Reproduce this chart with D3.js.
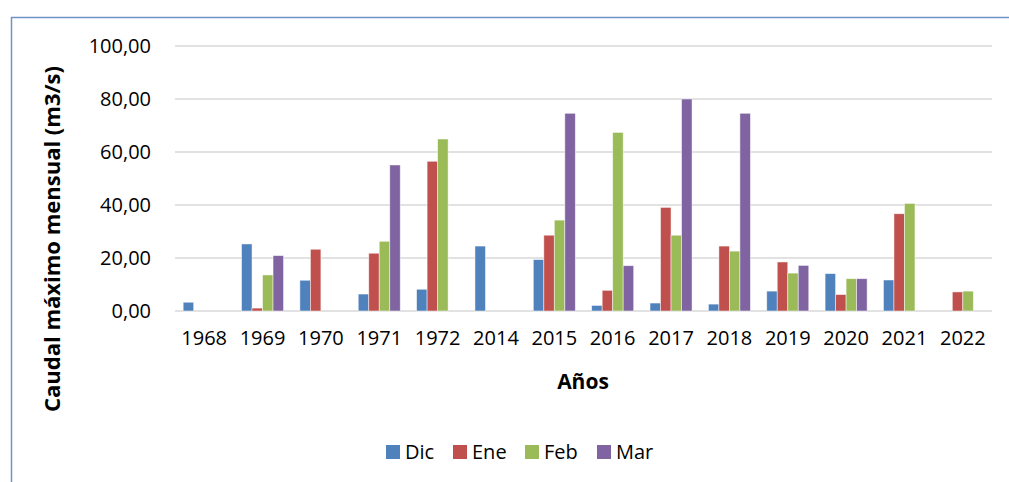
<!DOCTYPE html>
<html>
<head>
<meta charset="utf-8">
<script src="https://cdn.jsdelivr.net/npm/d3@7"></script>
<style>
  html, body { margin: 0; padding: 0; background: #fff; }
  svg { display: block; }
  text { font-family: "Open Sans", "Noto Sans", sans-serif; fill: #000; }
</style>
</head>
<body>
<svg id="chart" width="1009" height="482"></svg>
<script>
// Años registrados
const years = ["1968", "1969", "1970", "1971", "1972", "2014", "2015", "2016", "2017", "2018", "2019", "2020", "2021", "2022"];
// Meses (series)
const months = ["Dic", "Ene", "Feb", "Mar"];
const monthColors = ["#4f81bd", "#c0504d", "#9bbb59", "#8064a2"];
// Caudal máximo mensual (m3/s) por mes; null = sin dato
const dic = [3.3, 25.3, 11.6, 6.4, 8.2, 24.5, 19.4, 2.1, 3.0, 2.6, 7.5, 14.1, 11.7, null];
const ene = [null, 1.1, 23.3, 21.8, 56.5, null, 28.6, 7.8, 39.1, 24.5, 18.5, 6.2, 36.7, 7.2];
const feb = [null, 13.6, null, 26.3, 64.9, null, 34.3, 67.4, 28.6, 22.6, 14.3, 12.2, 40.6, 7.5];
const mar = [null, 20.9, null, 55.1, null, null, 74.6, 17.1, 80.0, 74.6, 17.2, 12.2, null, null];
const yTicks = [0, 20, 40, 60, 80, 100];

const seriesValues = [dic, ene, feb, mar];

const svg = d3.select("#chart");
const plot = { left: 175, right: 992, top: 46, bottom: 311 };

// Marco exterior del gráfico
svg.append("path")
  .attr("d", `M1009,17.5 H11.5 V482`)
  .attr("fill", "none")
  .attr("stroke", "#6f93c8")
  .attr("stroke-width", 1.5);

const x = d3.scaleBand().domain(years).range([plot.left, plot.right]).paddingInner(0).paddingOuter(0);
const barW = x.bandwidth() * 0.18;
const groupOffset = (x.bandwidth() - barW * months.length) / 2;
const y = d3.scaleLinear().domain([0, 100]).range([plot.bottom, plot.top]);

// Líneas de cuadrícula
svg.append("g")
  .selectAll("line")
  .data(yTicks)
  .join("line")
  .attr("x1", plot.left).attr("x2", plot.right)
  .attr("y1", d => y(d)).attr("y2", d => y(d))
  .attr("stroke", "#d9d9d9")
  .attr("stroke-width", 1.5);

// Eje Y
const fmt = d => d3.format(".2f")(d).replace(".", ",");
const yAxis = svg.append("g")
  .attr("transform", `translate(${plot.left},0)`)
  .call(d3.axisLeft(y).tickValues(yTicks).tickFormat(fmt).tickSize(0).tickPadding(24));
yAxis.select(".domain").remove();
yAxis.selectAll("text")
  .style("font-size", "20px")
  .style("font-family", "'Open Sans', sans-serif")
  .attr("fill", "#000");

// Eje X
const xAxis = svg.append("g")
  .attr("transform", `translate(0,${plot.bottom})`)
  .call(d3.axisBottom(x).tickSize(0).tickPadding(20));
xAxis.select(".domain").remove();
xAxis.selectAll("text")
  .style("font-size", "20px")
  .style("font-family", "'Open Sans', sans-serif")
  .attr("fill", "#000");

// Barras
const bars = [];
seriesValues.forEach((vals, si) => {
  vals.forEach((v, i) => {
    if (v !== null) bars.push({ year: years[i], s: si, v });
  });
});
svg.append("g")
  .selectAll("rect")
  .data(bars)
  .join("rect")
  .attr("x", d => x(d.year) + groupOffset + d.s * barW)
  .attr("width", barW)
  .attr("y", d => y(d.v))
  .attr("height", d => y(0) - y(d.v))
  .attr("fill", d => monthColors[d.s])
  .attr("stroke", "rgba(255,255,255,0.6)")
  .attr("stroke-width", 0.8);

// Títulos de ejes
svg.append("text")
  .attr("transform", `translate(60,${(65 + 413) / 2}) rotate(-90)`)
  .attr("text-anchor", "middle")
  .style("font-size", "22px")
  .style("font-weight", "bold")
  .text("Caudal máximo mensual (m3/s)");

svg.append("text")
  .attr("x", 583).attr("y", 389)
  .attr("text-anchor", "middle")
  .style("font-size", "21px")
  .style("font-weight", "bold")
  .text("Años");

// Leyenda
const legendX = [386, 453, 525, 597];
const legend = svg.append("g")
  .selectAll("g")
  .data(months)
  .join("g")
  .attr("transform", (d, i) => `translate(${legendX[i]},445)`);
legend.append("rect")
  .attr("width", 14).attr("height", 14)
  .attr("fill", (d, i) => monthColors[i]);
legend.append("text")
  .attr("x", 19).attr("y", 14)
  .style("font-size", "20px")
  .text(d => d);
</script>
</body>
</html>
